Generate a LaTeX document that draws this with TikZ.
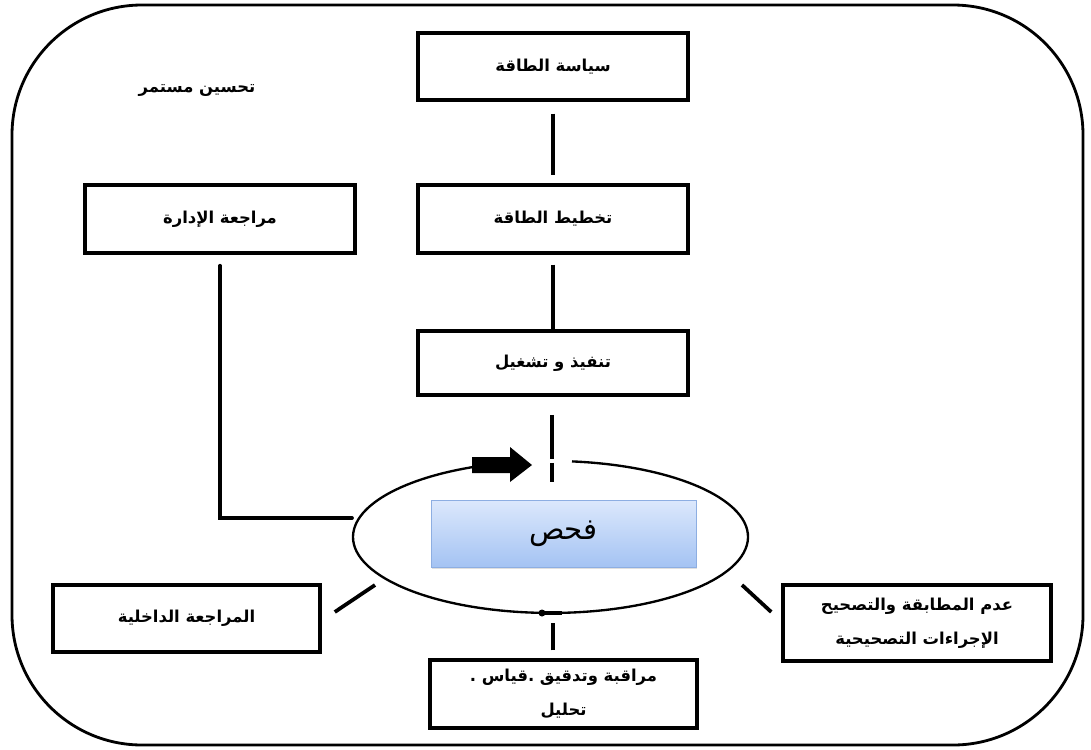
\documentclass[tikz,border=0pt]{standalone}
\usepackage{fontspec}
\newfontfamily\arabicfont[Script=Arabic]{DejaVu Sans}
\TeXXeTstate=1
\usetikzlibrary{calc,shadows}
\def\pxu{0.03cm}
\definecolor{chkTop}{HTML}{DCE8FC}
\definecolor{chkBot}{HTML}{A4C3F3}
\definecolor{chkLine}{HTML}{8DAEE2}
\tikzset{
  stagebox/.style={draw, line width=3pt, minimum width=270*\pxu, minimum height=67*\pxu,
    inner sep=0pt, align=center, font=\arabicfont\bfseries\fontsize{14}{29}\selectfont},
  conn/.style={line width=3.2pt},
  ringline/.style={line width=2pt},
}
\begin{document}
\begin{tikzpicture}[x=\pxu, y=-\pxu]
\useasboundingbox (0,0) rectangle (1091,749);
% outer frame
\draw[line width=2.4pt, rounded corners=3.9cm] (12,5) rectangle (1083,745);

% boxes
\node[stagebox] (pol) at (553,66.5) {\beginR سياسة الطاقة\endR};
\node[stagebox, minimum height=68*\pxu] (plan) at (553,219) {\beginR تخطيط الطاقة\endR};
\node[stagebox, minimum height=64*\pxu] (exec) at (553,363) {\beginR تنفيذ و تشغيل\endR};
\node[stagebox, minimum height=68*\pxu] (mgmt) at (220,219) {\beginR مراجعة الإدارة\endR};
\node[stagebox, minimum width=267*\pxu] (intr) at (186.5,618.5) {\beginR المراجعة الداخلية\endR};
\node[stagebox, minimum width=268*\pxu, minimum height=76*\pxu] (ncr) at (917,623)
  {\beginR عدم المطابقة والتصحيح\endR\\\beginR الإجراءات التصحيحية\endR};
\node[stagebox, minimum width=267*\pxu, minimum height=68*\pxu] (mon) at (563.5,694)
  {\beginR مراقبة وتدقيق .قياس .\endR\\\beginR تحليل\endR};
\node[font=\arabicfont\bfseries\fontsize{14}{16}\selectfont] (ci) at (197,90) {\beginR تحسين مستمر\endR};

% ring around check
\coordinate (rc) at (550.5,537);
\draw[ringline] (572,461.4) arc[start angle=83.75, end angle=-259.6, x radius=197.5*\pxu, y radius=76*\pxu];
\fill (542,613) circle[radius=3.5];
\draw[line width=2.8pt] (542,613) -- (562,613);

% check box
\node[draw=chkLine, line width=0.8pt, top color=chkTop, bottom color=chkBot,
  minimum width=265*\pxu, minimum height=67*\pxu, inner sep=0pt,
  drop shadow={opacity=0.25, shadow xshift=1pt, shadow yshift=-1.5pt},
  font=\arabicfont\fontsize{25}{28}\selectfont] (chk) at (563.5,533.5) {\raisebox{-3pt}{\beginR فحص\endR}};

% block arrow
\fill (472,457) -- (510,457) -- (510,447) -- (532,465) -- (510,482) -- (510,473) -- (472,473) -- cycle;

% connectors
\draw[conn, shorten <=10.2pt, shorten >=6.8pt] (pol) -- (plan);
\draw[conn, shorten <=8.5pt] (plan) -- (exec);
\coordinate (e1) at ($(exec.south)+(-1,18)$);
\coordinate (e2) at ($(exec.south)+(-1,62)$);
\coordinate (e3) at ($(exec.south)+(-1,66)$);
\coordinate (e4) at ($(exec.south)+(-1,85)$);
\draw[conn] (e1) -- (e2);
\draw[conn] (e3) -- (e4);
\coordinate (eL) at (352,518);
\draw[conn, line cap=round] ($(mgmt.south)+(0,11)$) |- (eL);
\coordinate (bl) at (375,585);
\draw[conn] ($(intr.east)+(13,-6.5)$) -- (bl);
\coordinate (br) at (742,585);
\draw[conn] ($(ncr.west)+(-10,-11)$) -- (br);
\coordinate (bm) at (553,623);
\draw[conn] ($(mon.north)+(-10.5,-8)$) -- (bm);
\end{tikzpicture}
\end{document}
